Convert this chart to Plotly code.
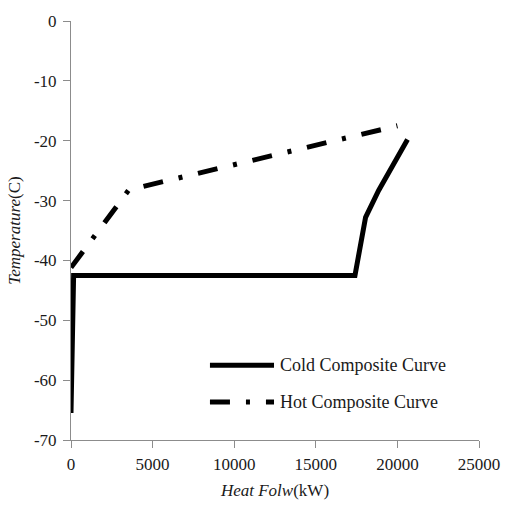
import plotly.graph_objects as go

# Data
cold_x = [0, 160, 17400, 18050, 18850, 19660, 20620]
cold_t = [-65.5, -42.5, -42.5, -32.8, -28.3, -24.4, -19.8]
hot_x = [0, 3550, 20000]
hot_t = [-41.2, -28.2, -17.5]

x_ticks = [0, 5000, 10000, 15000, 20000, 25000]
y_ticks = [0, -10, -20, -30, -40, -50, -60, -70]

legend_names = ["Cold Composite Curve", "Hot Composite Curve"]

FONT = "Liberation Serif"
HOT_DASH = "20px,16px,4px,16px"
TXT = "#1a1a1a"

fig = go.Figure()
fig.add_trace(go.Scatter(x=cold_x, y=cold_t, mode="lines", name=legend_names[0],
                         line=dict(color="black", width=5), showlegend=False))
fig.add_trace(go.Scatter(x=hot_x, y=hot_t, mode="lines", name=legend_names[1],
                         line=dict(color="black", width=5, dash=HOT_DASH), showlegend=False))

W, H = 512, 513
L, R, T, B = 71, 27, 20, 73
pw = W - L - R
ph = H - T - B

def px(x):
    return (x - L) / pw

def py(y):
    return 1 - (y - T) / ph

# Manual legend (line samples + labels)
shapes = []
annotations = []
rows = [(365, dict(color="black", width=5)), (402, dict(color="black", width=5, dash=HOT_DASH))]
for (yy, ln), name in zip(rows, legend_names):
    shapes.append(dict(type="line", xref="paper", yref="paper",
                       x0=px(212), x1=px(277), y0=py(yy), y1=py(yy), line=ln))
    annotations.append(dict(xref="paper", yref="paper", x=px(281), y=py(yy),
                            xanchor="left", yanchor="middle", text=name, showarrow=False,
                            font=dict(family=FONT, size=18, color=TXT)))

fig.update_layout(
    width=W, height=H,
    margin=dict(l=L, r=R, t=T, b=B),
    paper_bgcolor="white", plot_bgcolor="white",
    font=dict(family=FONT, size=17, color=TXT),
    shapes=shapes, annotations=annotations,
    showlegend=False,
    xaxis=dict(range=[0, 25000], tickvals=x_ticks, ticktext=[str(v) for v in x_ticks],
               showgrid=False, zeroline=False, showline=True, linecolor="#8c8c8c", linewidth=1,
               ticks="outside", ticklen=7, tickcolor="#8c8c8c", ticklabelstandoff=2,
               tickfont=dict(family=FONT, size=17, color=TXT),
               title=dict(text="<i>Heat Folw</i>(kW)", font=dict(family=FONT, size=17), standoff=10)),
    yaxis=dict(range=[-70, 0], tickvals=y_ticks, ticktext=[str(v) for v in y_ticks],
               showgrid=False, zeroline=False, showline=True, linecolor="#8c8c8c", linewidth=1,
               ticks="outside", ticklen=7, tickcolor="#8c8c8c", ticklabelstandoff=3,
               tickfont=dict(family=FONT, size=17, color=TXT),
               title=dict(text="<i>Temperature</i>(C)", font=dict(family=FONT, size=17), standoff=8)),
)

fig.write_html("out.html")
